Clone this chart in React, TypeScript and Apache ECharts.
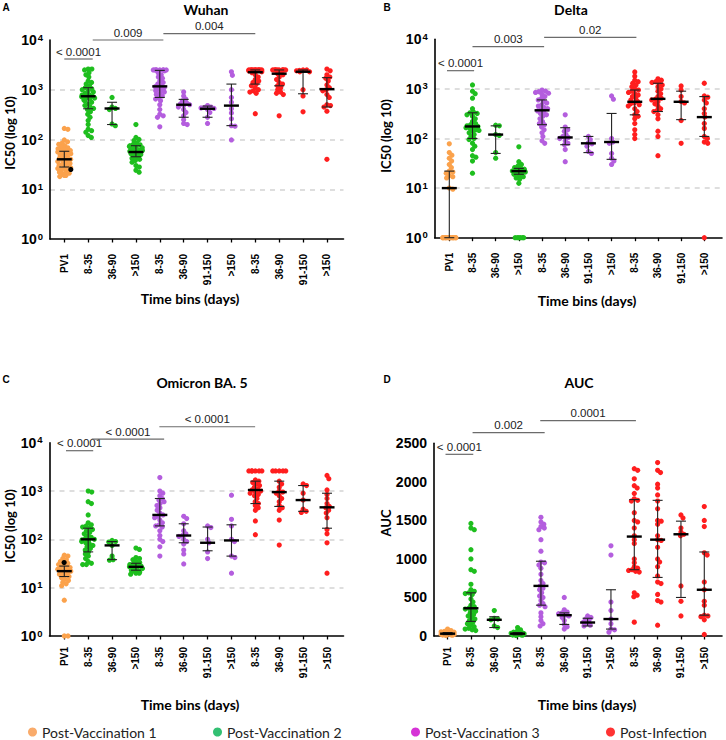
import React, { useEffect, useRef } from 'react';
import * as echarts from 'echarts';

// ---------- categories / groups ----------
const CATEGORIES = ['PV1', '8-35', '36-90', '>150', '8-35', '36-90', '91-150', '>150', '8-35', '36-90', '91-150', '>150'];
const GROUP_OF_CAT = [0, 1, 1, 1, 2, 2, 2, 2, 3, 3, 3, 3];
const DOT_COLORS = ['#FBA24C', '#1EBE1E', '#B45EDE', '#FF1E1E'];
const LEGEND_NAMES = ['Post-Vaccination 1', 'Post-Vaccination 2', 'Post-Vaccination 3', 'Post-Infection'];
const LEGEND_COLORS = ['#F79646', '#00B050', '#CC00CC', '#FF0000'];

// ---------- Panel A: Wuhan ----------
const wuhanValues = [
  [167, 160, 98, 90, 85, 80, 75, 70, 68, 65, 62, 60, 58, 56, 55, 52, 50, 48, 46, 45, 44, 42, 41, 40, 39, 38, 36, 35, 34, 33, 32, 30, 29, 28, 27, 26, 25, 24, 23, 22, 22, 21, 20, 20, 19, 19, 18],
  [2600, 2600, 2500, 2200, 2000, 1800, 1500, 1400, 1300, 1200, 1100, 1050, 1000, 950, 900, 850, 800, 780, 750, 720, 700, 680, 650, 620, 600, 560, 520, 480, 450, 420, 400, 360, 320, 280, 240, 200, 160, 150, 140, 120, 110],
  [700, 450, 420, 400, 205, 190],
  [200, 110, 100, 95, 85, 80, 78, 75, 72, 70, 68, 65, 62, 60, 58, 56, 55, 54, 52, 50, 48, 46, 45, 42, 40, 38, 35, 30, 28, 24, 22],
  [2500, 2500, 2500, 2500, 2500, 2500, 2500, 2500, 2400, 2200, 2000, 1800, 1700, 1500, 1400, 1300, 1200, 1150, 1100, 1050, 1000, 950, 900, 850, 800, 750, 700, 650, 600, 500, 400, 320, 300, 280, 180],
  [900, 750, 650, 600, 550, 520, 500, 480, 450, 400, 350, 300, 250, 210, 200],
  [480, 450, 440, 430, 420, 400, 350, 280, 210],
  [2300, 1950, 1000, 700, 560, 415, 340, 260, 190, 185, 98],
  [2500, 2500, 2500, 2500, 2500, 2500, 2500, 2500, 2500, 2500, 2500, 2500, 2400, 2300, 2200, 2000, 1800, 1600, 1500, 1400, 1300, 1200, 1100, 1000, 950, 900, 850, 330],
  [2500, 2500, 2500, 2500, 2500, 2500, 2500, 2500, 2500, 2500, 2300, 2100, 2000, 1800, 1600, 1400, 1300, 1200, 1100, 1000, 900, 850, 800, 300],
  [2500, 2500, 2450, 2400, 2300, 2300, 1000, 750, 360],
  [2600, 2400, 2000, 1800, 1700, 1500, 1250, 1100, 1000, 950, 800, 700, 500, 480, 450, 370, 40],
];
const wuhanMedian = [40, 740, 420, 56, 1170, 500, 415, 480, 2250, 2100, 2300, 1030];
const wuhanQ1 = [28, 415, 200, 45, 700, 280, 280, 190, 1300, 1200, 830, 450];
const wuhanQ3 = [58, 1100, 560, 75, 2450, 640, 470, 1300, 2500, 2500, 2500, 1750];
const wuhanBlack = [[0, 25]];
const wuhanBrackets = [[0, 1.19, 4150], [1.19, 4.15, 10000], [4.15, 8.0, 13400]];
const wuhanPLabels = ['< 0.0001', '0.009', '0.004'];

// ---------- Panel B: Delta ----------
const deltaValues = [
  [78, 52, 46, 40, 35, 30, 26, 22, 21, 20, 18, 17, 16, 10, 9.5, 1, 1, 1, 1, 1, 1, 1, 1, 1, 1, 1, 1, 1, 1],
  [1200, 900, 800, 650, 400, 340, 330, 320, 300, 280, 250, 220, 200, 190, 180, 175, 170, 165, 160, 150, 145, 140, 130, 120, 110, 100, 95, 80, 70, 60, 45, 42, 35, 20],
  [185, 180, 120, 115, 52, 40],
  [68, 34, 30, 28, 26, 25, 24, 23, 22, 22, 21, 21, 20, 20, 19, 18, 17, 16, 15, 12.5, 1, 1, 1, 1, 1, 1],
  [950, 900, 880, 850, 820, 780, 700, 650, 600, 560, 520, 480, 450, 420, 400, 380, 360, 340, 320, 300, 280, 250, 220, 200, 190, 170, 150, 130, 110, 90, 80],
  [300, 170, 150, 140, 120, 110, 105, 100, 90, 80, 75, 60, 34],
  [110, 95, 82, 78, 70, 55, 50],
  [720, 620, 100, 85, 80, 50, 40, 35, 30],
  [2200, 1800, 1500, 1400, 1300, 1200, 1100, 1000, 950, 900, 850, 800, 750, 700, 650, 600, 560, 520, 500, 480, 450, 400, 350, 300, 280, 250, 200, 150, 120, 100],
  [1600, 1500, 1400, 1350, 1300, 1200, 1100, 1000, 900, 800, 700, 650, 620, 600, 550, 500, 450, 400, 370, 350, 300, 250, 140, 110, 45],
  [1150, 950, 700, 560, 520, 230, 80],
  [1300, 720, 680, 600, 520, 400, 320, 270, 200, 160, 110, 100, 85, 80, 1],
];
const deltaMedian = [10, 175, 120, 22, 370, 105, 80, 85, 550, 630, 550, 270];
const deltaQ1 = [1, 100, 50, 19, 190, 75, 52, 38, 300, 350, 240, 110];
const deltaQ3 = [22, 330, 180, 25, 600, 165, 110, 320, 950, 1300, 900, 700];
const deltaBlack: number[][] = [];
const deltaBrackets = [[-0.1, 1.07, 2330], [1.0, 4.09, 7100], [4.09, 8.07, 10970]];
const deltaPLabels = ['< 0.0001', '0.003', '0.02'];

// ---------- Panel C: Omicron BA. 5 ----------
const omicronValues = [
  [47, 45, 40, 38, 35, 32, 30, 28, 27, 26, 25, 24, 23, 22, 22, 21, 20, 20, 19, 18, 17, 16, 15, 14, 13, 12, 11, 5.5, 1, 1],
  [1000, 950, 600, 550, 320, 220, 200, 190, 180, 170, 160, 150, 140, 130, 120, 110, 105, 100, 98, 95, 90, 85, 80, 75, 70, 65, 60, 55, 50, 45, 40, 35, 32, 30, 30],
  [95, 90, 88, 75, 45, 38, 37],
  [66, 62, 42, 40, 38, 35, 33, 31, 30, 29, 28, 27, 26, 25, 24, 23, 22, 21, 20, 20, 19],
  [1900, 1000, 900, 800, 700, 650, 600, 550, 500, 450, 400, 350, 320, 300, 280, 250, 220, 200, 190, 180, 150, 120, 100, 90, 70, 45],
  [300, 270, 210, 150, 130, 120, 115, 100, 90, 80, 60, 50, 31],
  [190, 175, 100, 85, 55, 40],
  [820, 260, 190, 100, 90, 45, 42, 20],
  [2600, 2600, 2600, 2600, 2600, 2600, 1700, 1600, 1500, 1400, 1300, 1200, 1100, 1050, 1000, 950, 900, 850, 800, 700, 600, 550, 500, 450, 400, 240, 125],
  [2600, 2600, 2600, 2600, 2600, 1600, 1400, 1200, 1000, 950, 900, 800, 700, 600, 500, 450, 400, 250, 76],
  [1400, 1300, 900, 650, 420, 380, 360],
  [2100, 1800, 1050, 850, 700, 550, 480, 450, 400, 350, 280, 160, 130, 85, 20],
];
const omicronMedian = [22, 100, 75, 27, 320, 120, 85, 95, 1050, 950, 650, 460];
const omicronQ1 = [17, 55, 38, 23, 190, 85, 58, 45, 550, 480, 380, 170];
const omicronQ3 = [28, 170, 90, 32, 700, 210, 180, 200, 1600, 1600, 1300, 900];
const omicronBlack = [[0, 33]];
const omicronBrackets = [[0.07, 1.21, 6830], [1.15, 4.18, 11900], [3.98, 7.99, 21400]];
const omicronPLabels = ['< 0.0001', '< 0.0001', '< 0.0001'];

// ---------- Panel D: AUC ----------
const aucValues = [
  [90, 70, 60, 55, 50, 45, 40, 38, 35, 32, 30, 28, 25, 22, 20, 18, 15, 12, 10, 8],
  [1460, 1400, 1380, 1120, 1000, 860, 840, 670, 600, 580, 560, 550, 540, 480, 440, 400, 380, 360, 350, 340, 320, 300, 280, 260, 240, 220, 200, 180, 160, 140, 120, 100, 90, 80, 70],
  [330, 230, 220, 210, 130, 110],
  [110, 80, 60, 50, 40, 35, 30, 25, 20, 15, 12, 10, 8],
  [1540, 1480, 1450, 1420, 1400, 1380, 1250, 1100, 960, 950, 920, 880, 800, 720, 680, 650, 620, 600, 560, 520, 500, 460, 420, 400, 380, 300, 250, 200, 160, 130],
  [500, 340, 310, 300, 290, 270, 260, 240, 200, 150, 120, 90],
  [260, 240, 220, 200, 180, 160, 140, 130],
  [1170, 1050, 440, 330, 220, 160, 90, 80, 50],
  [2170, 2150, 2040, 1950, 1920, 1850, 1780, 1760, 1750, 1600, 1500, 1480, 1400, 1300, 1250, 1200, 1000, 950, 900, 880, 860, 850, 840, 830, 560, 530, 510, 180],
  [2250, 2150, 2120, 1970, 1920, 1830, 1750, 1650, 1500, 1490, 1450, 1300, 1250, 1240, 1150, 1000, 960, 900, 780, 700, 680, 540, 460, 440, 140],
  [1570, 1530, 1400, 1350, 1320, 1300, 650, 450, 260],
  [1680, 1500, 1420, 1080, 1050, 700, 600, 450, 400, 270, 260, 250, 210, 20],
];
const aucMedian = [30, 360, 210, 30, 650, 270, 175, 220, 1290, 1250, 1320, 600];
const aucQ1 = [18, 190, 110, 15, 400, 150, 130, 90, 860, 760, 500, 270];
const aucQ3 = [45, 560, 250, 45, 970, 300, 230, 600, 1770, 1760, 1490, 1090];
const aucBlack: number[][] = [];
const aucBrackets = [[-0.09, 1.1, 2357], [1.07, 4.16, 2639], [3.97, 8.07, 2793]];
const aucPLabels = ['< 0.0001', '0.002', '0.0001'];
const AUC_TICKS = [0, 2500, 500];

const IDX = CATEGORIES.map((_, i) => i);

// ---------- layout (pixels) ----------
const PANELS = [
  { key: 'A', title: 'Wuhan', yName: 'IC50 (log 10)', log: true, values: wuhanValues, med: wuhanMedian, q1: wuhanQ1, q3: wuhanQ3, black: wuhanBlack, br: wuhanBrackets, pl: wuhanPLabels,
    grid: { left: 50, top: 40, width: 293.5, height: 199 }, xr: [-0.599, 11.695], letter: [6, 7], titleXY: [206, 9], yNameXY: [10, 133], xNameXY: [190, 298], labelMargin: 15 },
  { key: 'B', title: 'Delta', yName: 'IC50 (log 10)', log: true, values: deltaValues, med: deltaMedian, q1: deltaQ1, q3: deltaQ3, black: deltaBlack, br: deltaBrackets, pl: deltaPLabels,
    grid: { left: 434.7, top: 39.3, width: 287.3, height: 198.4 }, xr: [-0.63, 11.763], letter: [387, 7], titleXY: [571, 9], yNameXY: [386, 136], xNameXY: [587, 300], labelMargin: 15 },
  { key: 'C', title: 'Omicron BA. 5', yName: 'IC50 (log 10)', log: true, values: omicronValues, med: omicronMedian, q1: omicronQ1, q3: omicronQ3, black: omicronBlack, br: omicronBrackets, pl: omicronPLabels,
    grid: { left: 49.5, top: 442.7, width: 294, height: 193.3 }, xr: [-0.62, 11.69], letter: [6, 379], titleXY: [202, 382], yNameXY: [10, 526], xNameXY: [190, 704], labelMargin: 11 },
  { key: 'D', title: 'AUC', yName: 'AUC', log: false, values: aucValues, med: aucMedian, q1: aucQ1, q3: aucQ3, black: aucBlack, br: aucBrackets, pl: aucPLabels,
    grid: { left: 434, top: 443.3, width: 288, height: 192.7 }, xr: [-0.583, 11.759], letter: [387, 379], titleXY: [579, 382], yNameXY: [386, 523], xNameXY: [587, 704], labelMargin: 11 },
];
const LEGEND_LEFT = [28, 213, 411, 606];

const R = 2.6;
const SEP = 3.7;
const MAX_HALF = 6.5;

function swarmOffsets(ys: number[]): number[] {
  const order = ys.map((_, i) => i).sort((a, b) => ys[a] - ys[b] || a - b);
  const px: number[] = [];
  const py: number[] = [];
  const out = new Array(ys.length).fill(0);
  let overflow = 0;
  const d2 = SEP * SEP;
  for (const i of order) {
    const y = ys[i];
    const cands = [0];
    for (let j = 0; j < px.length; j++) {
      const dy = y - py[j];
      if (Math.abs(dy) < SEP) {
        const dx = Math.sqrt(d2 - dy * dy);
        cands.push(px[j] + dx, px[j] - dx);
      }
    }
    cands.sort((a, b) => Math.abs(a) - Math.abs(b) || b - a);
    let chosen: number | null = null;
    for (const c of cands) {
      let ok = true;
      for (let j = 0; j < px.length; j++) {
        const dx = c - px[j];
        const dy = y - py[j];
        if (dx * dx + dy * dy < d2 - 0.01) { ok = false; break; }
      }
      if (ok) { chosen = c; break; }
    }
    if (chosen === null || Math.abs(chosen) > MAX_HALF) {
      const steps = [-1, 1, -0.5, 0.5, -0.75, 0.75, -0.25, 0.25, 0];
      chosen = steps[overflow % steps.length] * MAX_HALF;
      overflow++;
    }
    px.push(chosen);
    py.push(y);
    out[i] = chosen;
  }
  return out;
}

const LABEL_FONT = 'Liberation Sans, Arial, sans-serif';
const CAL_FONT = 'Lato, sans-serif';

function buildOption() {
  const grid: any[] = [];
  const xAxis: any[] = [];
  const yAxis: any[] = [];
  const series: any[] = [];
  const graphic: any[] = [];

  PANELS.forEach((p, gi) => {
    grid.push({ ...p.grid, containLabel: false });
    xAxis.push({
      type: 'value', gridIndex: gi, min: p.xr[0], max: p.xr[1],
      axisLine: { show: true, onZero: false, lineStyle: { color: '#000', width: 1.6 } },
      axisTick: { show: true, customValues: IDX, length: 3.5, lineStyle: { color: '#000', width: 1.3 } },
      axisLabel: {
        customValues: IDX, rotate: 90, margin: p.labelMargin,
        formatter: (v: number) => CATEGORIES[Math.round(v)],
        fontFamily: LABEL_FONT, fontWeight: 'bold', fontSize: 10, color: '#000',
      },
      splitLine: { show: false },
    });
    if (p.log) {
      yAxis.push({
        type: 'log', logBase: 10, gridIndex: gi, min: 1, max: 10000,
        axisLine: { show: true, onZero: false, lineStyle: { color: '#000', width: 1.6 } },
        axisTick: { show: false },
        minorTick: { show: false },
        axisLabel: {
          margin: 7,
          formatter: (v: number) => `{b|10}{s|${Math.round(Math.log10(v))}}`,
          rich: {
            b: { fontFamily: LABEL_FONT, fontWeight: 'bold', fontSize: 14, color: '#000', lineHeight: 16 },
            s: { fontFamily: LABEL_FONT, fontWeight: 'bold', fontSize: 9.5, color: '#000', verticalAlign: 'top', lineHeight: 10, padding: [0, 0, 0, 1] },
          },
        },
        splitLine: { show: true, showMinLine: false, showMaxLine: false, lineStyle: { color: '#d4d4d4', type: [5, 5], width: 1.5 } },
      });
    } else {
      yAxis.push({
        type: 'value', gridIndex: gi, min: AUC_TICKS[0], max: AUC_TICKS[1], interval: AUC_TICKS[2],
        axisLine: { show: true, onZero: false, lineStyle: { color: '#000', width: 1.6 } },
        axisTick: { show: false },
        axisLabel: { margin: 7, fontFamily: LABEL_FONT, fontWeight: 'bold', fontSize: 14, color: '#000', formatter: (v: number) => String(v) },
        splitLine: { show: false },
      });
    }

    // dots (beeswarm) per category
    series.push({
      type: 'custom', xAxisIndex: gi, yAxisIndex: gi, silent: true, clip: false, z: 2,
      data: IDX.map((i) => [i, p.med[i]]),
      renderItem: (params: any, api: any) => {
        const ci = params.dataIndex;
        const vals: number[] = p.values[ci].slice();
        const colors: string[] = vals.map(() => DOT_COLORS[GROUP_OF_CAT[ci]]);
        p.black.forEach((b) => { if (b[0] === ci) { vals.push(b[1]); colors.push('#000'); } });
        const cx = api.coord([ci, p.med[ci]])[0];
        const ys = vals.map((v) => api.coord([ci, v])[1]);
        const offs = swarmOffsets(ys);
        return {
          type: 'group',
          children: vals.map((_, k) => ({
            type: 'circle',
            shape: { cx: cx + offs[k], cy: ys[k], r: R },
            style: { fill: colors[k] },
          })),
        };
      },
    });

    // median + IQR
    series.push({
      type: 'custom', xAxisIndex: gi, yAxisIndex: gi, silent: true, clip: false, z: 3,
      data: IDX.map((i) => [i, p.med[i], p.q1[i], p.q3[i]]),
      renderItem: (params: any, api: any) => {
        const m = api.coord([api.value(0), api.value(1)]);
        const lo = api.coord([api.value(0), api.value(2)]);
        const hi = api.coord([api.value(0), api.value(3)]);
        const x = m[0];
        const thin = { stroke: '#222', lineWidth: 1.1 };
        return {
          type: 'group',
          children: [
            { type: 'line', shape: { x1: x, y1: lo[1], x2: x, y2: hi[1] }, style: thin },
            { type: 'line', shape: { x1: x - 5, y1: lo[1], x2: x + 5, y2: lo[1] }, style: thin },
            { type: 'line', shape: { x1: x - 5, y1: hi[1], x2: x + 5, y2: hi[1] }, style: thin },
            { type: 'line', shape: { x1: x - 7.5, y1: m[1], x2: x + 7.5, y2: m[1] }, style: { stroke: '#000', lineWidth: 2.4 } },
          ],
        };
      },
    });

    // significance brackets
    series.push({
      type: 'custom', xAxisIndex: gi, yAxisIndex: gi, silent: true, clip: false, z: 4,
      data: p.br,
      renderItem: (params: any, api: any) => {
        const a = api.coord([api.value(0), api.value(2)]);
        const b = api.coord([api.value(1), api.value(2)]);
        return {
          type: 'group',
          children: [
            { type: 'line', shape: { x1: a[0], y1: a[1], x2: b[0], y2: b[1] }, style: { stroke: '#6b6b6b', lineWidth: 1.2 } },
            {
              type: 'text',
              style: {
                text: p.pl[params.dataIndex], x: (a[0] + b[0]) / 2, y: a[1] - 1.5,
                textAlign: 'center', textVerticalAlign: 'bottom',
                font: `11.5px ${LABEL_FONT}`, fill: '#222',
              },
            },
          ],
        };
      },
    });

    graphic.push(
      { type: 'text', x: p.letter[0], y: p.letter[1], style: { text: p.key, textAlign: 'center', textVerticalAlign: 'middle', font: `bold 10px ${LABEL_FONT}`, fill: '#000' } },
      { type: 'text', x: p.titleXY[0], y: p.titleXY[1], style: { text: p.title, textAlign: 'center', textVerticalAlign: 'middle', font: `bold 14px ${CAL_FONT}`, fill: '#000' } },
      { type: 'text', x: p.xNameXY[0], y: p.xNameXY[1], style: { text: 'Time bins (days)', textAlign: 'center', textVerticalAlign: 'middle', font: `bold 14px ${CAL_FONT}`, fill: '#000' } },
      { type: 'text', x: p.yNameXY[0], y: p.yNameXY[1], rotation: Math.PI / 2, style: { text: p.yName, textAlign: 'center', textVerticalAlign: 'middle', font: `bold 13px ${CAL_FONT}`, fill: '#000' } },
    );
  });

  LEGEND_NAMES.forEach((name, i) => {
    series.push({ type: 'scatter', name, xAxisIndex: 0, yAxisIndex: 0, data: [], itemStyle: { color: LEGEND_COLORS[i] } });
  });

  const legend = LEGEND_NAMES.map((name, i) => ({
    data: [name], left: LEGEND_LEFT[i], top: 725, padding: 0, icon: 'circle', itemWidth: 9, itemHeight: 9, itemGap: 0,
    selectedMode: false, textStyle: { fontFamily: CAL_FONT, fontSize: 14, color: '#222', padding: [0, 0, 0, 0] },
  }));

  return { animation: false, backgroundColor: '#fff', grid, xAxis, yAxis, series, graphic, legend };
}

export default function App() {
  const ref = useRef<HTMLDivElement>(null);
  useEffect(() => {
    if (!ref.current) return;
    const chart = echarts.init(ref.current, undefined, { renderer: 'svg' });
    chart.setOption(buildOption() as any);
    return () => chart.dispose();
  }, []);
  return <div ref={ref} style={{ position: 'absolute', left: 0, top: 0, width: 726, height: 740, background: '#fff' }} />;
}
